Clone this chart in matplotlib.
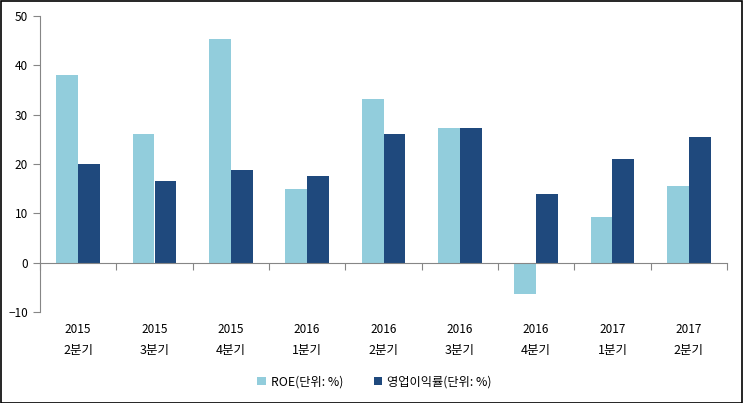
import matplotlib
matplotlib.use("Agg")
import matplotlib.pyplot as plt
import numpy as np

plt.rcParams['font.family'] = ['Noto Sans CJK KR', 'DejaVu Sans']

years = ["2015", "2015", "2015", "2016", "2016", "2016", "2016", "2017", "2017"]
quarters = ["2분기", "3분기", "4분기", "1분기", "2분기", "3분기", "4분기", "1분기", "2분기"]
roe = [38.1, 26.0, 45.4, 15.0, 33.1, 27.2, -6.4, 9.2, 15.6]
op_margin = [20.1, 16.6, 18.7, 17.6, 26.0, 27.2, 14.0, 21.1, 25.5]

fig = plt.figure(figsize=(7.43, 4.03), dpi=100)
ax = fig.add_axes([40 / 743, 1 - 312 / 403, 687 / 743, 296 / 403])

x = np.arange(len(years))
w = 0.286
ax.bar(x - w / 2, roe, w, color="#92CDDC", label="ROE(단위: %)")
ax.bar(x + w / 2, op_margin, w, color="#1F497D", label="영업이익률(단위: %)")

ax.set_xlim(-0.5, len(years) - 0.5)
ax.set_ylim(-10, 50)
ax.set_yticks(range(-10, 51, 10))
ax.set_xticks(np.arange(-0.5, len(years), 1.0))
ax.set_xticklabels([])

for s in ["top", "right"]:
    ax.spines[s].set_visible(False)
ax.spines["bottom"].set_position(("data", 0))
for s in ["left", "bottom"]:
    ax.spines[s].set_color("#868686")
ax.tick_params(axis="y", colors="#868686", labelcolor="black", length=5, labelsize=8.5)
ax.tick_params(axis="x", colors="#868686", length=5, direction="out")

for i in range(len(years)):
    ax.text(i, -0.06, years[i], transform=ax.get_xaxis_transform(), ha="center", va="center", fontsize=8.5)
    ax.text(i, -0.13, quarters[i], transform=ax.get_xaxis_transform(), ha="center", va="center", fontsize=9)

ax.legend(loc="center", bbox_to_anchor=(0.487, -0.235), ncol=2, frameon=False,
          fontsize=8.8, handlelength=0.7, handleheight=0.7, columnspacing=2.5, handletextpad=0.4)

fig.patches.append(plt.Rectangle((0.001, 0.001), 0.998, 0.997, transform=fig.transFigure,
                                 fill=False, edgecolor="black", linewidth=1.2))

fig.savefig("out.png", dpi=100)
